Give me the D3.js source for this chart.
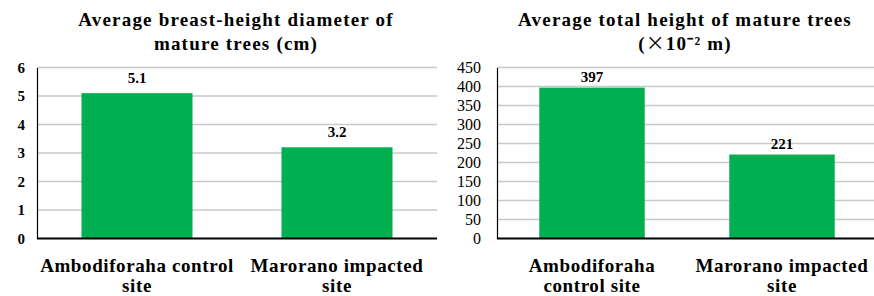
<!DOCTYPE html>
<html>
<head>
<meta charset="utf-8">
<script src="https://cdn.jsdelivr.net/npm/d3@7"></script>
<style>
  body { margin: 0; background: #fff; }
  svg text { font-family: "Liberation Serif", "Times New Roman", serif; }
</style>
</head>
<body>
<svg id="chart" width="874" height="296"></svg>
<script>
// data
const sites = ['Ambodiforaha control site', 'Marorano impacted site'];
const diameterValues = [5.1, 3.2];
const heightValues = [397, 221];
const diameterTicks = [0, 1, 2, 3, 4, 5, 6];
const heightTicks = [0, 50, 100, 150, 200, 250, 300, 350, 400, 450];
const diameterTitle = [['Average breast-height diameter of'], ['mature trees (cm)']];
// second line split so the multiplication sign can use a wider glyph
const heightTitle = [['Average total height of mature trees'], ['(', '\u00d7', '10\u207b\u00b2 m)']];
const diameterLabels = [['Ambodiforaha control', 'site'], ['Marorano impacted', 'site']];
const heightLabels = [['Ambodiforaha', 'control site'], ['Marorano impacted', 'site']];

const svg = d3.select('#chart');
const green = '#00b050';

const drawPanel = (opts) => {
  const g = svg.append('g');
  const x = d3.scaleBand().domain(sites).range([opts.x0, opts.x1])
    .paddingInner(0.445).paddingOuter(0.2225);
  const y = d3.scaleLinear().domain([0, d3.max(opts.ticks)]).range([238.5, 67.5]);

  // gridlines
  g.selectAll('.grid')
    .data(opts.ticks.slice(1))
    .enter().append('line')
    .attr('x1', opts.x0).attr('x2', opts.x1)
    .attr('y1', d => y(d)).attr('y2', d => y(d))
    .attr('stroke', '#c9c9c9').attr('stroke-width', 1.3);

  // bars
  g.selectAll('rect')
    .data(opts.values)
    .enter().append('rect')
    .attr('x', (d, i) => x(sites[i]))
    .attr('width', x.bandwidth())
    .attr('y', d => y(d))
    .attr('height', d => y(0) - y(d))
    .attr('fill', green);

  // value labels
  g.selectAll('.val')
    .data(opts.values)
    .enter().append('text')
    .attr('x', (d, i) => x(sites[i]) + x.bandwidth() / 2)
    .attr('y', d => y(d) - opts.valGap)
    .attr('text-anchor', 'middle')
    .attr('font-weight', 'bold')
    .attr('font-size', 15)
    .text(d => d);

  // y axis
  const yAxis = d3.axisLeft(y).tickValues(opts.ticks).tickFormat(d3.format('d'))
    .tickSize(0).tickPadding(opts.tickPad);
  const ya = g.append('g').attr('transform', `translate(${opts.x0},0)`).call(yAxis);
  ya.attr('font-family', null);
  ya.select('.domain').attr('stroke', '#000').attr('stroke-width', 1.2);
  ya.selectAll('text')
    .attr('font-size', opts.tickSize)
    .attr('font-weight', opts.tickWeight)
    .attr('fill', '#000');

  // baseline
  g.append('line')
    .attr('x1', opts.x0).attr('x2', opts.x1)
    .attr('y1', y(0)).attr('y2', y(0))
    .attr('stroke', '#000').attr('stroke-width', 2.2);

  // category labels
  opts.labels.forEach((lines, i) => {
    const cx = x(sites[i]) + x.bandwidth() / 2;
    const t = g.append('text')
      .attr('x', cx)
      .attr('y', 272)
      .attr('text-anchor', 'middle')
      .attr('font-weight', 'bold')
      .attr('font-size', 19)
      .attr('letter-spacing', 0.6);
    lines.forEach((l, j) => {
      t.append('tspan').attr('x', cx).attr('dy', j === 0 ? 0 : 20).text(l);
    });
  });

  // title
  opts.title.forEach((parts, j) => {
    const tt = g.append('text')
      .attr('x', opts.titleX)
      .attr('y', 26 + j * 24)
      .attr('text-anchor', 'middle')
      .attr('font-weight', 'bold')
      .attr('font-size', 19)
      .attr('letter-spacing', 1.2);
    parts.forEach(p => {
      const s = tt.append('tspan').text(p);
      if (p === '\u00d7') s.style('font-family', '"Noto Sans CJK SC"').attr('font-weight', 'normal');
    });
  });
};

drawPanel({
  x0: 37, x1: 437, values: diameterValues, ticks: diameterTicks,
  labels: diameterLabels, title: diameterTitle, titleX: 236,
  tickSize: 15, tickWeight: 'bold', tickPad: 12, valGap: 10
});

drawPanel({
  x0: 497, x1: 877, values: heightValues, ticks: heightTicks,
  labels: heightLabels, title: heightTitle, titleX: 685,
  tickSize: 16, tickWeight: 'normal', tickPad: 16, valGap: 6
});
</script>
</body>
</html>
